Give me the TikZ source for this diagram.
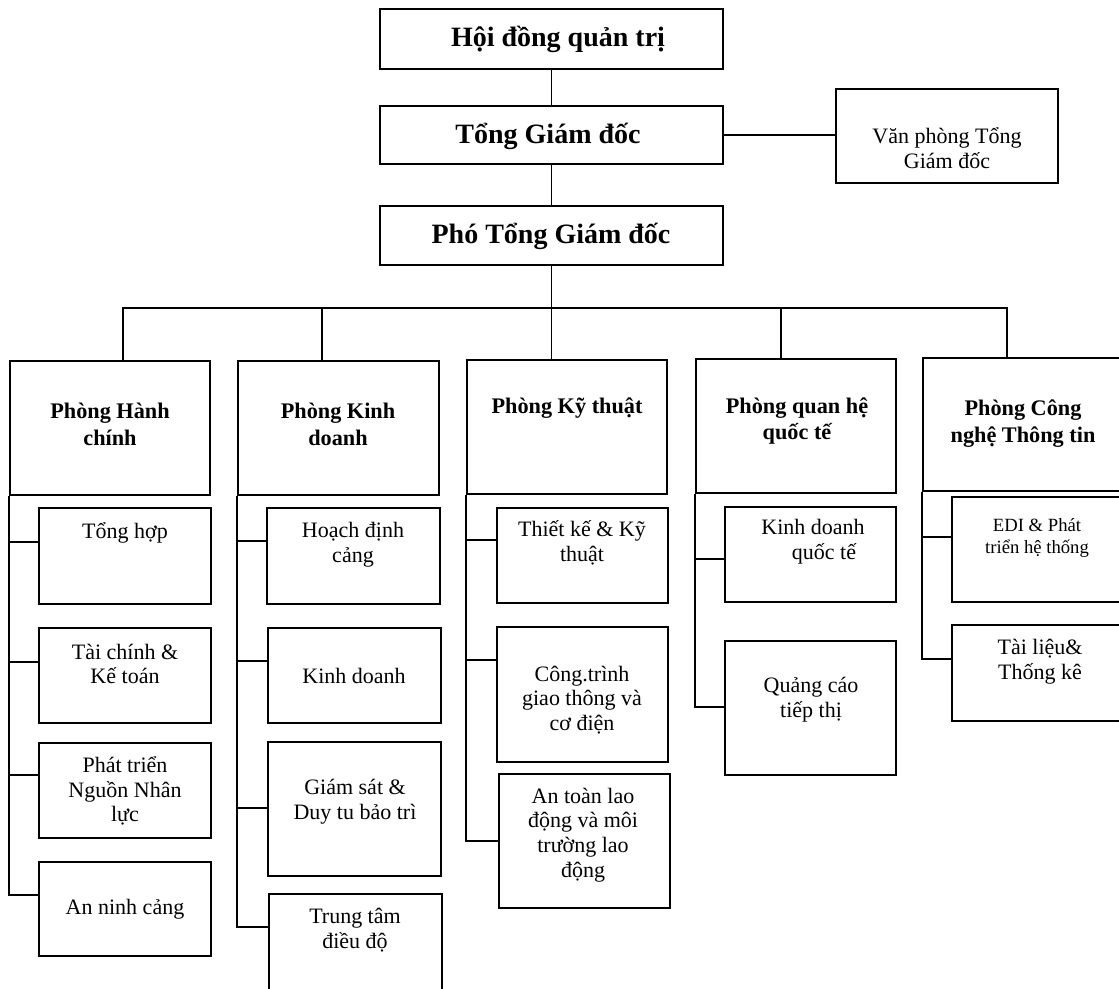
\documentclass[tikz,border=0pt]{standalone}
\usepackage{fontspec}
\setmainfont{Liberation Serif}
\usetikzlibrary{fit,calc}
\tikzset{
  box/.style={draw, line width=1.2pt, inner sep=0pt},
  link/.style={line width=1.1pt},
  topt/.style={font=\fontsize{21}{24}\selectfont\bfseries, align=center, inner sep=0pt},
  dept/.style={font=\fontsize{16.7}{20.2}\selectfont\bfseries, align=center, inner sep=0pt},
  subt/.style={font=\fontsize{16.5}{18.5}\selectfont, align=center, inner sep=0pt},
  smallt/.style={font=\fontsize{14}{17}\selectfont, align=center, inner sep=0pt},
}
\newcommand\orgspine[3]{\draw[link] (#1.south west) |- ($(#2.north west)+(0,#3)$);}
\begin{document}
\begin{tikzpicture}[x=0.75pt,y=-0.75pt]
\useasboundingbox (0,0) rectangle (1119,988);
\clip (0,0) rectangle (1119,988);
\fill[white] (0,0) rectangle (1119,988);

% top level
\node[box, fit={(380,9) (723,69)}] (hd) {};
\node[topt] (hdt) at (558,39) {Hội đồng quản trị};
\node[box, fit={(380,106) (723,164)}] (tgd) {};
\node[topt] (tgdt) at (548,136) {Tổng Giám đốc};
\node[box, fit={(380,206) (723,265)}] (ptgd) {};
\node[topt] (ptgdt) at (551,236) {Phó Tổng Giám đốc};
\node[box, fit={(836,89) (1058,183)}] (vp) {};
\node[subt] (vpt) at (947,148) {Văn phòng Tổng\\Giám đốc};

% departments
\node[box, fit={(10,361) (210,495)}] (d1) {};
\node[dept] (d1t) at (110,424) {Phòng Hành\\chính};
\node[box, fit={(238,361) (439,495)}] (d2) {};
\node[dept] (d2t) at (338,424) {Phòng Kinh\\doanh};
\node[box, fit={(467,360) (667,494)}] (d3) {};
\node[dept] (d3t) at (567,408) {Phòng Kỹ thuật};
\node[box, fit={(696,359) (896,493)}] (d4) {};
\node[dept] (d4t) at (797,421) {Phòng quan hệ\\quốc tế};
\node[box, fit={(923,358) (1123,491)}] (d5) {};
\node[dept] (d5t) at (1023,424) {Phòng Công\\nghệ Thông tin};

% column 1
\node[box, fit={(39,508) (211,604)}] (c11) {};
\node[subt] (c11t) at (125,533) {Tổng hợp};
\node[box, fit={(39,628) (211,723)}] (c12) {};
\node[subt] (c12t) at (125,664) {Tài chính \&\\Kế toán};
\node[box, fit={(39,743) (211,838)}] (c13) {};
\node[subt] (c13t) at (125,791) {Phát triển\\Nguồn Nhân\\lực};
\node[box, fit={(39,862) (211,956)}] (c14) {};
\node[subt] (c14t) at (125,909) {An ninh cảng};

% column 2
\node[box, fit={(267,508) (440,604)}] (c21) {};
\node[subt] (c21t) at (353,545) {Hoạch định\\cảng};
\node[box, fit={(268,628) (441,723)}] (c22) {};
\node[subt] (c22t) at (354,676) {Kinh doanh};
\node[box, fit={(268,742) (441,876)}] (c23) {};
\node[subt] (c23t) at (355,802) {Giám sát \&\\Duy tu bảo trì};
\node[box, fit={(269,894) (442,1000)}] (c24) {};
\node[subt] (c24t) at (355,930) {Trung tâm\\điều độ};

% column 3
\node[box, fit={(497,508) (668,603)}] (c31) {};
\node[subt] (c31t) at (582,543) {Thiết kế \& Kỹ\\thuật};
\node[box, fit={(497,627) (668,762)}] (c32) {};
\node[subt] (c32t) at (582,700) {Công.trình\\giao thông và\\cơ điện};
\node[box, fit={(499,774) (670,908)}] (c33) {};
\node[subt] (c33t) at (583,835) {An toàn lao\\động và môi\\trường lao\\động};

% column 4
\node[box, fit={(725,507) (896,602)}] (c41) {};
\node[subt] (c41t) at (813,542) {Kinh doanh\\\hspace*{1em}quốc tế};
\node[box, fit={(725,641) (896,775)}] (c42) {};
\node[subt] (c42t) at (811,700) {Quảng cáo\\tiếp thị};

% column 5
\node[box, fit={(952,497) (1123,602)}] (c51) {};
\node[smallt] (c51t) at (1037,538) {EDI \& Phát\\triển hệ thống};
\node[box, fit={(952,625) (1123,721)}] (c52) {};
\node[subt] (c52t) at (1040,662) {Tài liệu\&\\Thống kê};

% top connectors
\draw[link] (hd) -- (tgd);
\draw[link] (tgd) -- (ptgd);
\draw[link] (tgd.east) -- (tgd.east -| vp.west);
\draw[link] (ptgd.south) -- (ptgd.south |- d3.north);
\coordinate (bus) at (551.5,308);
\draw[link] ($(d1.north west)+(114,0)$) |- (bus) -| ($(d5.north west)+(85,0)$);
\draw[link] ($(d2.north west)+(85,0)$) |- (bus);
\draw[link] ($(d4.north west)+(86,0)$) |- (bus);

% spines
\orgspine{d1}{c11}{35}
\orgspine{d1}{c12}{35}
\orgspine{d1}{c13}{33}
\orgspine{d1}{c14}{34}
\orgspine{d2}{c21}{34}
\orgspine{d2}{c22}{34}
\orgspine{d2}{c23}{67}
\orgspine{d2}{c24}{34}
\orgspine{d3}{c31}{33}
\orgspine{d3}{c32}{34}
\orgspine{d3}{c33}{68}
\orgspine{d4}{c41}{53}
\orgspine{d4}{c42}{67}
\orgspine{d5}{c51}{41}
\orgspine{d5}{c52}{35}
\end{tikzpicture}
\end{document}
